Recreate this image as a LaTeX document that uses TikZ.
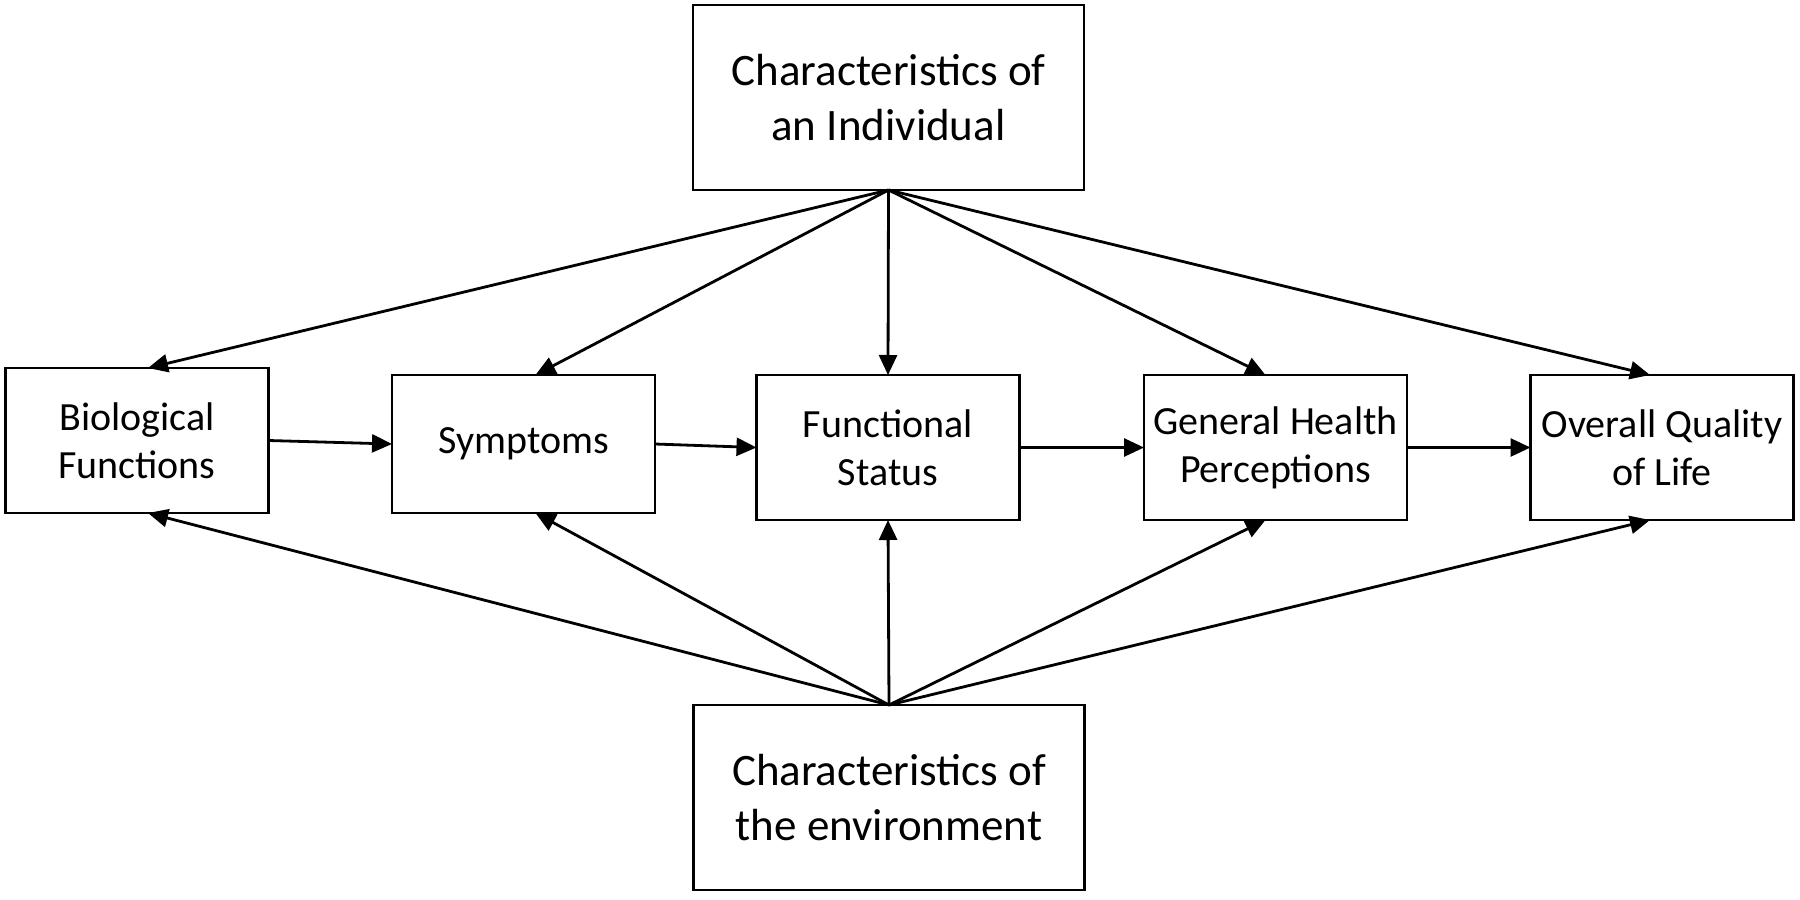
\documentclass[tikz,border=0pt]{standalone}
\usepackage{fontspec}
\setmainfont{Carlito}
\usetikzlibrary{arrows.meta}
\begin{document}
\begin{tikzpicture}[x=0.5pt,y=-0.5pt,
  box/.style={draw, line width=1.4pt, inner sep=0pt, outer sep=0pt, align=center,
    minimum width=131.5pt, minimum height=72.5pt, font=\fontsize{20}{24}\selectfont},
  bigbox/.style={box, minimum width=195.5pt, minimum height=92.5pt, font=\fontsize{22.5}{27.5}\selectfont},
  arr/.style={line width=1.4pt, -{Triangle[length=10pt,width=9pt]}}]
\useasboundingbox (0,0) rectangle (1800,900);
\node[bigbox] (top) at (888.5,97.5) {Characteristics of\\an Individual};
\node[bigbox] (bot) at (889,797.5) {Characteristics of\\the environment};
\node[box] (bio) at (137,440.5) {Biological\\Functions};
\node[box, minimum height=69pt] (sym) at (523.5,444) {Symptoms};
\node[box] (fun) at (888,447.5) {Functional\\Status};
\node[box] (gen) at (1275.5,447.5) {General Health\\Perceptions};
\node[box] (ovr) at (1662,447.5) {Overall Quality\\of Life};
% horizontal chain
\draw[arr] (bio.east) -- (sym.west);
\draw[arr] (sym.east) -- (fun.west);
\draw[arr] (fun.east) -- (gen.west);
\draw[arr] (gen.east) -- (ovr.west);
% from individual
\draw[arr] (top.south) -- ([xshift=5.5pt]bio.north);
\draw[arr] (top.south) -- ([xshift=6pt]sym.north);
\draw[arr] (top.south) -- (fun.north);
\draw[arr] (top.south) -- ([xshift=-5pt]gen.north);
\draw[arr] (top.south) -- ([xshift=-6pt]ovr.north);
% from environment
\draw[arr] (bot.north) -- ([xshift=5.5pt]bio.south);
\draw[arr] (bot.north) -- ([xshift=6pt]sym.south);
\draw[arr] (bot.north) -- (fun.south);
\draw[arr] (bot.north) -- ([xshift=-5pt]gen.south);
\draw[arr] (bot.north) -- ([xshift=-6pt]ovr.south);
\end{tikzpicture}
\end{document}
